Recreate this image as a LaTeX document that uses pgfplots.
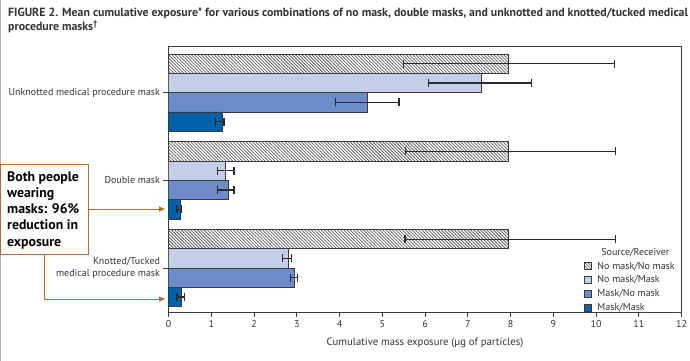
\documentclass[border=0pt]{standalone}
\usepackage{fontspec}
\setmainfont{PT Sans}
\usepackage{pgfplots}
\pgfplotsset{compat=1.18}
\usepackage{pgfplotstable}
\usetikzlibrary{patterns.meta, arrows.meta}

\definecolor{nmc}{HTML}{C5CEE8}
\definecolor{mnc}{HTML}{6B8CC8}
\definecolor{mmc}{HTML}{0061AA}
\definecolor{edge}{HTML}{3A3A3A}
\definecolor{ebar}{HTML}{2A2A2A}
\definecolor{anno}{HTML}{B5682F}
\definecolor{txt}{HTML}{333333}

% y: bar centre (2 = Unknotted, 1 = Double mask, 0 = Knotted/Tucked, plus offset inside the group)
% v = mean, lo/hi = error bar ends
\pgfplotstableread{
y v lo hi
2.33 7.94 5.50 10.43
1.33 7.94 5.54 10.46
0.33 7.94 5.53 10.45
}\nn
\pgfplotstableread{
y v lo hi
2.11 7.33 6.08 8.49
1.11 1.34 1.15 1.53
0.11 2.81 2.67 2.87
}\nm
\pgfplotstableread{
y v lo hi
1.89 4.66 3.90 5.39
0.89 1.40 1.15 1.53
-0.11 2.94 2.86 3.02
}\mn
\pgfplotstableread{
y v lo hi
1.67 1.26 1.10 1.30
0.67 0.28 0.20 0.30
-0.33 0.31 0.20 0.37
}\mm

\begin{document}
\begin{tikzpicture}
\useasboundingbox (0pt,0pt) rectangle (690pt,-361pt);
\draw[gray!60, line width=0.8pt] (0.4pt,0pt) -- (0.4pt,-361pt);

\node[anchor=north west, align=left, inner sep=0pt, text=txt,
      font=\bfseries\fontsize{11.85}{14}\selectfont] at (8pt,-8pt)
  {FIGURE 2. Mean cumulative exposure* for various combinations of no mask, double masks, and unknotted and knotted/tucked medical\\
   procedure masks\textsuperscript{\dag}};

\begin{axis}[
  at={(168.5pt,-312pt)}, anchor=south west,
  scale only axis, width=513pt, height=265pt,
  xmin=0, xmax=12, ymin=-0.5, ymax=2.52,
  xtick={0,1,...,12}, ytick={0,1,2},
  xtick pos=bottom, ytick pos=left,
  yticklabels={{Knotted/Tucked\\medical procedure mask},{Double mask},{Unknotted medical procedure mask}},
  yticklabel style={align=right, font=\fontsize{10}{11.5}\selectfont, text=txt},
  xticklabel style={font=\fontsize{10}{11}\selectfont, text=txt},
  /pgf/number format/assume math mode=true,
  tick align=outside, major tick length=5pt,
  tick style={edge, line width=0.8pt},
  axis line style={edge, line width=1pt},
  xlabel={Cumulative mass exposure (µg of particles)},
  xlabel style={font=\fontsize{10.7}{12}\selectfont, text=txt, yshift=-3pt},
  bar width=0.22, bar shift=0pt,
  error bars/error bar style={ebar, line width=1.2pt},
  error bars/error mark options={ebar, line width=1.2pt, mark size=4pt, rotate=90},
  legend image code/.code={\draw[#1, line width=0.7pt] (0pt,-3.5pt) rectangle (7pt,3.5pt);},
  legend style={draw=none, fill=none, at={(0.993,-0.012)}, anchor=south east,
     font=\fontsize{10}{11}\selectfont, text=txt, row sep=1.2pt,
     inner sep=1pt, /tikz/every odd column/.append style={column sep=4pt}},
  legend cell align=left,
]
\addplot[xbar, draw=edge, line width=0.8pt,
  pattern={Lines[angle=-45, distance=2.3pt, line width=0.75pt]}, pattern color=gray!75!black,
  error bars/.cd, x dir=both, x explicit]
  table[x=v, y=y, x error plus expr=\thisrow{hi}-\thisrow{v}, x error minus expr=\thisrow{v}-\thisrow{lo}] {\nn};
\addlegendentry{No mask/No mask}

\addplot[xbar, draw=edge, line width=0.8pt, fill=nmc,
  error bars/.cd, x dir=both, x explicit]
  table[x=v, y=y, x error plus expr=\thisrow{hi}-\thisrow{v}, x error minus expr=\thisrow{v}-\thisrow{lo}] {\nm};
\addlegendentry{No mask/Mask}

\addplot[xbar, draw=edge, line width=0.8pt, fill=mnc,
  error bars/.cd, x dir=both, x explicit]
  table[x=v, y=y, x error plus expr=\thisrow{hi}-\thisrow{v}, x error minus expr=\thisrow{v}-\thisrow{lo}] {\mn};
\addlegendentry{Mask/No mask}

\addplot[xbar, draw=edge, line width=0.8pt, fill=mmc,
  error bars/.cd, x dir=both, x explicit]
  table[x=v, y=y, x error plus expr=\thisrow{hi}-\thisrow{v}, x error minus expr=\thisrow{v}-\thisrow{lo}] {\mm};
\addlegendentry{Mask/Mask}

\node[anchor=west, inner sep=0pt, text=txt, font=\fontsize{10}{11}\selectfont]
  at (axis cs:10.12,0.175) {Source/Receiver};
\end{axis}

% annotation
\draw[anno, line width=0.8pt, fill=white] (0.5pt,-164pt) rectangle (88pt,-254pt);
\node[anchor=north west, align=left, inner sep=0pt, text=black,
      font=\bfseries\fontsize{13.8}{16.3}\selectfont] at (7pt,-171pt)
  {Both people\\wearing\\masks: 96\%\\reduction in\\exposure};
\draw[anno, line width=0.8pt, -{Triangle[length=6pt,width=5pt]}] (88pt,-209pt) -- (165pt,-209pt);
\draw[anno, line width=0.8pt, -{Triangle[length=6pt,width=5pt]}] (44.3pt,-254pt) -- (44.3pt,-299pt) -- (165pt,-299pt);
\end{tikzpicture}
\end{document}
